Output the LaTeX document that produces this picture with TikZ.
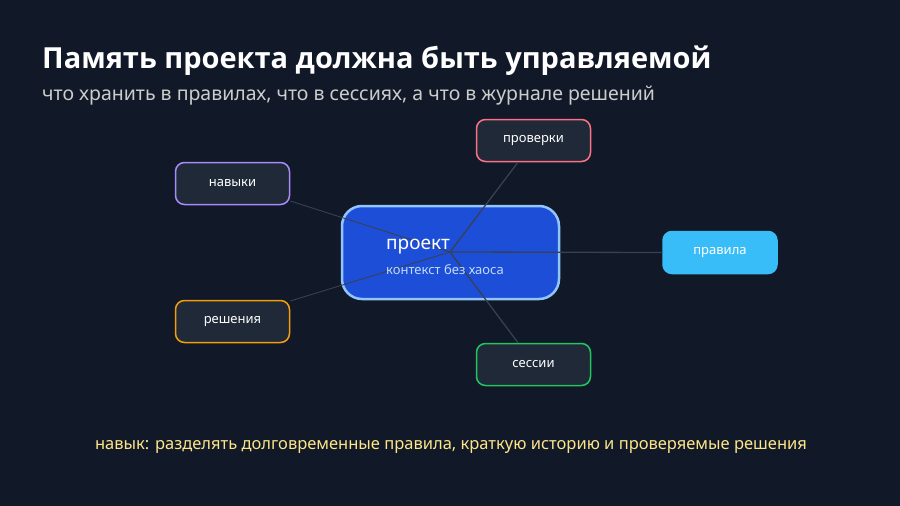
\documentclass[tikz,border=0pt]{standalone}
\usepackage{fontspec}
\setmainfont{Open Sans}
\newfontfamily\notof{Noto Sans}
\definecolor{bg}{HTML}{111827}
\definecolor{card}{HTML}{1F2937}
\definecolor{lin}{HTML}{374151}
\begin{document}
\begin{tikzpicture}[x=1pt,y=-1pt,
  box/.style={draw, line width=1.5pt, fill=card, rounded corners=9pt, minimum width=114pt, minimum height=42pt, inner sep=0pt, text=white, font=\notof\fontsize{13}{15}\selectfont},
  conn/.style={draw=lin, line width=1.3pt},
  thin/.style={draw=lin, line width=0.9pt}]
\fill[bg] (0,0) rectangle (900,506);
\useasboundingbox (0,0) rectangle (900,506);
\node[anchor=base west, inner sep=0pt, text=white, font=\fontsize{29}{34}\selectfont\bfseries] (title) at (42,68) {Память проекта должна быть управляемой};
\node[anchor=base west, inner sep=0pt, font=\notof\fontsize{19.5}{23}\selectfont, text=black!20] (sub) at (42,100) {что хранить в правилах, что в сессиях, а что в журнале решений};
\node[draw={rgb,255:red,147;green,197;blue,253}, line width=2.5pt, fill={rgb,255:red,29;green,78;blue,216}, rounded corners=20pt, minimum width=217pt, minimum height=93pt] (main) at (450.5,252.5) {};
\node[box, draw={rgb,255:red,167;green,139;blue,250}] (nav) at (232.5,183.5) {навыки};
\node[box, draw={rgb,255:red,251;green,113;blue,133}] (prov) at (533.5,140.5) {проверки};
\node[box, draw={rgb,255:red,56;green,189;blue,248}, fill={rgb,255:red,56;green,189;blue,248}] (prav) at (720,252.5) {правила};
\node[box, draw={rgb,255:red,245;green,158;blue,11}] (resh) at (232.5,321.5) {решения};
\node[box, draw={rgb,255:red,34;green,197;blue,94}] (sess) at (533.5,364.5) {сессии};
\coordinate (hub) at (450,252);
\draw[thin] (hub) -- (nav.east |- 0,201);
\draw[thin] (hub) -- (resh.east |- 0,301);
\draw[conn] (hub) -- (prov.south -| 518,0);
\draw[conn] (hub) -- (prav.west);
\draw[conn] (hub) -- (sess.north -| 518,0);
\node[anchor=base west, inner sep=0pt, text=white, font=\notof\fontsize{19}{22}\selectfont] (t1) at (386,249) {проект};
\node[anchor=base west, inner sep=0pt, text={rgb,255:red,191;green,219;blue,254}, font=\notof\fontsize{13}{15}\selectfont] (t2) at (386,274) {контекст без хаоса};
\node[anchor=base, inner sep=0pt, text={rgb,255:red,253;green,230;blue,138}, font=\notof\fontsize{16.5}{19}\selectfont] (foot) at (451,449) {навык: разделять долговременные правила, краткую историю и проверяемые решения};
\end{tikzpicture}
\end{document}
